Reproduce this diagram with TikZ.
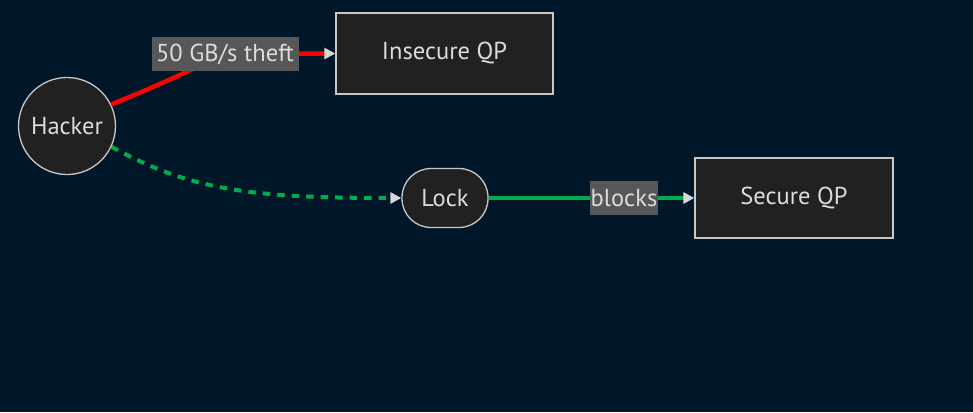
\documentclass[tikz,border=0pt]{standalone}
\usepackage{fontspec}
\setmainfont{PT Sans}
\usetikzlibrary{arrows.meta}
\definecolor{bgc}{HTML}{001729}
\definecolor{nodefill}{HTML}{212121}
\definecolor{nodeline}{HTML}{C8C8C8}
\definecolor{txt}{HTML}{DCDCDC}
\definecolor{lblfill}{HTML}{575757}
\definecolor{redc}{HTML}{FF0000}
\definecolor{greenc}{HTML}{00AD4E}
\definecolor{tipc}{HTML}{D8D8D8}
\tikzset{
  box/.style={draw=nodeline, line width=1.3pt, fill=nodefill, text=txt, font=\fontsize{24.5}{26}\selectfont, inner sep=0pt},
  lbl/.style={fill=lblfill, text=txt, font=\fontsize{24.5}{26}\selectfont, inner sep=0pt, minimum height=34pt},
  tip/.style={-{Triangle[length=11pt,width=11pt,color=tipc]}},
}
\begin{document}
\begin{tikzpicture}[x=1pt,y=-1pt]
\fill[bgc] (0,0) rectangle (973,412);
\useasboundingbox (0,0) rectangle (973,412);
\node[box, circle, minimum size=97pt] (hacker) at (67,126) {Hacker};
\node[box, rectangle, minimum width=217pt, minimum height=81pt] (insecure) at (444.5,53.5) {Insecure QP};
\node[box, rectangle, rounded corners=29pt, minimum width=86pt, minimum height=59pt] (lock) at (445,198) {Lock};
\node[box, rectangle, minimum width=198pt, minimum height=80pt] (secure) at (794,198) {Secure QP};
\coordinate (theftc) at (225,54);
\coordinate (blocksc) at (624,198);
% edges
\draw[redc, line width=4.5pt, tip] (hacker.26) .. controls (175,79) and (210,60) .. (theftc) -- (insecure.west);
\draw[greenc, line width=4pt, dash pattern=on 7.5pt off 7pt, tip] (hacker.-25) .. controls (190,190) and (250,198) .. (lock.west);
\draw[greenc, line width=4pt, tip] (lock.east) -- (secure.west);
% labels
\node[lbl, minimum width=147pt] (theft) at (theftc) {50 GB/s theft};
\node[lbl, minimum width=68pt] (blocks) at (blocksc) {blocks};
\end{tikzpicture}
\end{document}
